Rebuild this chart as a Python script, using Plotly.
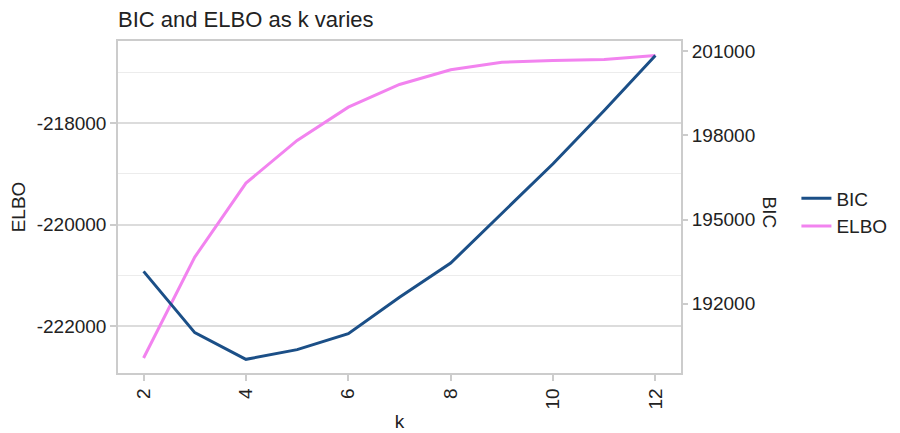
import plotly.graph_objects as go

k_values = [2, 3, 4, 5, 6, 7, 8, 9, 10, 11, 12]
elbo_values = [-222631, -220640, -219182, -218341, -217685, -217237,
               -216948, -216798, -216764, -216745, -216666]
bic_values = [193152, 190968, 190017, 190362, 190932, 192226,
              193447, 195207, 196989, 198887, 200847]

x_ticks = [2, 4, 6, 8, 10, 12]
elbo_ticks = [-222000, -220000, -218000]
elbo_tick_text = ["-222000", "-220000", "-218000"]
bic_ticks = [192000, 195000, 198000, 201000]
bic_tick_text = ["192000", "195000", "198000", "201000"]

FONT = "Liberation Sans, Arial, Helvetica, sans-serif"
AXIS_COL = "#cccccc"
TXT = "#222222"

fig = go.Figure()
fig.add_trace(go.Scatter(x=k_values, y=bic_values, name="BIC", mode="lines",
                         line=dict(color="#1b4f87", width=3), yaxis="y2"))
fig.add_trace(go.Scatter(x=k_values, y=elbo_values, name="ELBO", mode="lines",
                         line=dict(color="#f283ef", width=3), yaxis="y"))

fig.update_layout(
    width=900, height=433,
    margin=dict(l=110, r=227, t=33, b=68, autoexpand=False),
    paper_bgcolor="white", plot_bgcolor="white",
    font=dict(family=FONT, size=19, color=TXT),
    title=dict(text="BIC and ELBO as k varies", x=0, xref="paper", xanchor="left",
               y=1 - 11 / 433, yref="container", yanchor="middle",
               font=dict(size=22, color=TXT), automargin=False),
    xaxis=dict(range=[1.5, 12.5], tickvals=x_ticks, tickangle=-90, automargin=False,
               ticks="outside", ticklen=6, tickcolor=AXIS_COL, tickwidth=1.5,
               showline=True, linecolor=AXIS_COL, linewidth=1.5, mirror=True,
               showgrid=False, zeroline=False,
               title=dict(text="k", standoff=6, font=dict(size=19))),
    yaxis=dict(range=[-222926, -216380], tickvals=elbo_ticks, ticktext=elbo_tick_text,
               automargin=False,
               ticks="outside", ticklen=6, tickcolor=AXIS_COL, tickwidth=1.5,
               showline=True, linecolor=AXIS_COL, linewidth=1.5, mirror=True,
               showgrid=True, gridcolor="#dcdcdc", gridwidth=2, zeroline=False,
               minor=dict(dtick=1000, tick0=0, showgrid=True, gridcolor="#ececec",
                          gridwidth=1),
               title=dict(text="ELBO", standoff=8, font=dict(size=19))),
    yaxis2=dict(range=[189529, 201363], tickvals=bic_ticks, ticktext=bic_tick_text,
                overlaying="y", side="right", automargin=False,
                ticks="outside", ticklen=6, tickcolor=AXIS_COL, tickwidth=1.5,
                showline=False, showgrid=False, zeroline=False),
    legend=dict(x=1.205, xanchor="left", y=0.583, yanchor="top",
                font=dict(size=19), bgcolor="rgba(0,0,0,0)", tracegroupgap=0),
    annotations=[dict(text="BIC", textangle=90, xref="paper", yref="paper",
                      x=(770 - 117.5) / 563.5, y=(372.7 - 212) / 332.2,
                      xanchor="center", yanchor="middle", showarrow=False,
                      font=dict(size=19, color=TXT))],
)

fig.write_html("out.html")
